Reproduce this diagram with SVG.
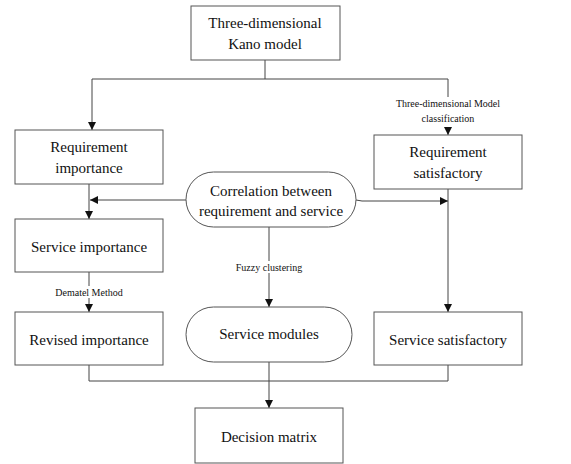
<svg xmlns="http://www.w3.org/2000/svg" width="571" height="464" viewBox="0 0 571 464">
<style>
.box{fill:#fff;stroke:#555;stroke-width:1}
.t{font-family:'Liberation Serif','Times New Roman','DejaVu Serif',serif;font-size:15px;fill:#111;text-anchor:middle}
.s{font-family:'Liberation Serif','Times New Roman','DejaVu Serif',serif;font-size:10px;fill:#111;text-anchor:middle}
.c{fill:none;stroke:#444;stroke-width:1}
</style>
<defs>
<marker id="a" viewBox="0 0 10 10" refX="10" refY="5" markerWidth="8" markerHeight="8" markerUnits="userSpaceOnUse" orient="auto">
<path d="M0,0 L10,5 L0,10 z" fill="#111"/>
</marker>
</defs>
<rect width="571" height="464" fill="#fff"/>
<g id="connectors" font-family="Liberation Serif, serif">
<path class="c" d="M265,60 V79 M92,79 H448 V133"/>
<path class="c" d="M92,79 V130" marker-end="url(#a)"/>
<path class="c" d="M448,100 V135" marker-end="url(#a)"/>
<path class="c" d="M186,200 H90" marker-end="url(#a)"/>
<path class="c" d="M89,184 V219" marker-end="url(#a)"/>
<path class="c" d="M356,200 L362,201 H448" marker-end="url(#a)"/>
<path class="c" d="M448,189 V312" marker-end="url(#a)"/>
<path class="c" d="M89,272 V312" marker-end="url(#a)"/>
<path class="c" d="M269,227 V307" marker-end="url(#a)"/>
<path class="c" d="M89,365 V381 H448 V365"/>
<path class="c" d="M269,362 V408" marker-end="url(#a)"/>
<rect x="415" y="97" width="66" height="30" fill="#fff"/>
<text class="s" x="448" y="107">Three-dimensional Model</text>
<text class="s" x="448" y="122">classification</text>
<rect x="245" y="261" width="48" height="12" fill="#fff"/>
<text class="s" x="269" y="271">Fuzzy clustering</text>
<rect x="55" y="286" width="68" height="12" fill="#fff"/>
<text class="s" x="89" y="296">Dematel Method</text>
</g>
<g id="kano">
<rect class="box" x="191" y="6" width="149" height="54"/>
<text class="t" x="265" y="28">Three-dimensional</text>
<text class="t" x="265" y="49">Kano model</text>
</g>
<g id="req-importance">
<rect class="box" x="15" y="130" width="148" height="54"/>
<text class="t" x="89" y="152">Requirement</text>
<text class="t" x="89" y="173">importance</text>
</g>
<g id="req-satisfactory">
<rect class="box" x="374" y="135" width="148" height="54"/>
<text class="t" x="448" y="157">Requirement</text>
<text class="t" x="448" y="178">satisfactory</text>
</g>
<g id="correlation">
<rect class="box" x="186" y="172" width="170" height="55" rx="27.5"/>
<text class="t" x="271" y="196">Correlation between</text>
<text class="t" x="271" y="216">requirement and service</text>
</g>
<g id="service-importance">
<rect class="box" x="15" y="219" width="148" height="53"/>
<text class="t" x="89" y="252">Service importance</text>
</g>
<g id="revised-importance">
<rect class="box" x="15" y="312" width="148" height="53"/>
<text class="t" x="89" y="345">Revised importance</text>
</g>
<g id="service-modules">
<rect class="box" x="186" y="307" width="166" height="55" rx="27.5"/>
<text class="t" x="269" y="339">Service modules</text>
</g>
<g id="service-satisfactory">
<rect class="box" x="374" y="312" width="148" height="53"/>
<text class="t" x="448" y="345">Service satisfactory</text>
</g>
<g id="decision">
<rect class="box" x="195" y="408" width="148" height="55"/>
<text class="t" x="269" y="442">Decision matrix</text>
</g>
</svg>
